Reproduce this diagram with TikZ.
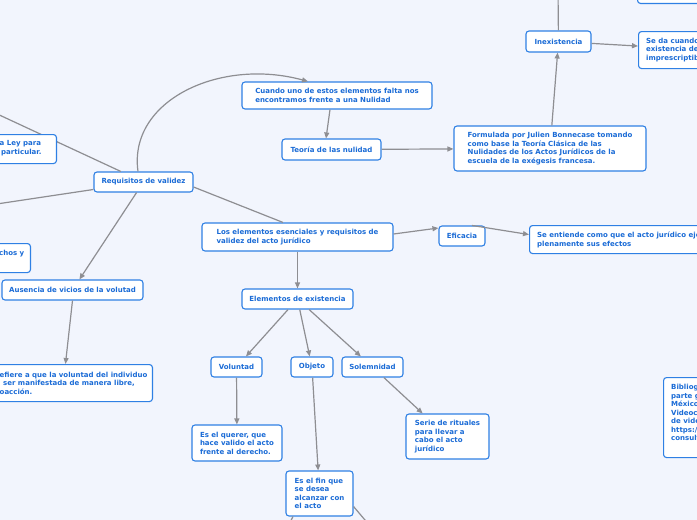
\documentclass[tikz,border=0pt]{standalone}
\usepackage{fontspec}
\usetikzlibrary{arrows.meta}
\newfontfamily\dvsfam{DejaVu Sans}
\newcommand\mfont{\dvsfam\bfseries\fontsize{7}{8.5}\selectfont}
\definecolor{bgc}{HTML}{F2F5FD}
\definecolor{bordc}{HTML}{2F80E4}
\definecolor{txtc}{HTML}{1A6BD6}
\definecolor{linec}{HTML}{8E8E92}
\tikzset{
  mbox/.style={draw=bordc, fill=white, rounded corners=3pt, line width=1.1pt, text=txtc, font=\mfont, inner sep=0pt, align=left},
  tbox/.style={text=txtc, font=\mfont, inner sep=0pt, align=left},
  conn/.style={draw=linec, line width=1.2pt},
  arr/.style={conn, -{Triangle[length=6pt,width=5pt]}}
}
\begin{document}
\begin{tikzpicture}[x=1pt,y=-1pt]
\useasboundingbox (0,0) rectangle (697,520);
\fill[bgc] (0,0) rectangle (697,520);

% main nodes
\node[mbox, minimum width=99pt, minimum height=20pt] (req) at (143.5,182) {Requisitos de validez};
\node[mbox, minimum width=190pt, minimum height=27pt] (cuando) at (337,95.5) {Cuando uno de estos elementos falta nos\\encontramos frente a una Nulidad};
\node[mbox, minimum width=99pt, minimum height=21pt] (teoria) at (331.5,149.5) {Teoría de las nulidad};
\node[mbox, minimum width=192pt, minimum height=45pt] (formulada) at (550,148.5) {Formulada por Julien Bonnecase tomando\\como base la Teoría Clásica de las\\Nulidades de los Actos Jurídicos de la\\escuela de la exégesis francesa.};
\node[mbox, minimum width=65pt, minimum height=21pt] (inex) at (558.5,41.5) {Inexistencia};
\node[mbox, minimum width=122pt, minimum height=37pt, anchor=north west] (seda) at (638,31) {};
\node[tbox, anchor=north west] (sedatxt) at (646,37.5) {Se da cuando\\existencia de\\imprescriptib};
\node[mbox, minimum width=123pt, minimum height=30pt, anchor=south west] (topbox) at (637,4) {};
\node[mbox, minimum width=191pt, minimum height=28pt] (los) at (297.5,237) {Los elementos esenciales y requisitos de\\validez del acto jurídico};
\node[mbox, minimum width=46pt, minimum height=20pt] (efi) at (462,236) {Eficacia};
\node[mbox, minimum width=231pt, minimum height=28pt, anchor=north west] (sent) at (529,225) {};
\node[tbox, anchor=north west] (senttxt) at (537,232) {Se entiende como que el acto jurídico eje\\plenamente sus efectos};
\node[mbox, minimum width=111pt, minimum height=20pt] (elex) at (297.5,299) {Elementos de existencia};
\node[mbox, minimum width=51pt, minimum height=20pt] (vol) at (236.5,367) {Voluntad};
\node[mbox, minimum width=42pt, minimum height=20pt] (obj) at (312,367) {Objeto};
\node[mbox, minimum width=61pt, minimum height=20pt] (sol) at (372.5,367) {Solemnidad};
\node[mbox, minimum width=90pt, minimum height=36pt] (querer) at (237,443) {Es el querer, que\\hace valido el acto\\frente al derecho.};
\node[mbox, minimum width=83pt, minimum height=45pt] (serie) at (447.5,436.5) {Serie de rituales\\para llevar a\\cabo el acto\\jurídico};
\node[mbox, minimum width=67pt, minimum height=45pt] (fin) at (319.5,493.5) {Es el fin que\\se desea\\alcanzar con\\el acto};
\node[mbox, minimum width=141pt, minimum height=20pt] (aus) at (72.5,290) {Ausencia de vicios de la volutad};
\node[mbox, minimum width=193pt, minimum height=37pt, anchor=north east] (fiere) at (153,364) {};
\node[tbox, anchor=west] (fieretxt) at (-0.5,383) {efiere a que la voluntad del individuo\\\hspace{3.5pt}ser manifestada de manera libre,\\oacción.};
\node[mbox, minimum width=71pt, minimum height=29pt, anchor=north east] (chos) at (31,243) {};
\node[tbox, anchor=west] (chostxt) at (-1,254) {chos y};
\node[mbox, minimum width=97pt, minimum height=80pt, anchor=north west] (biblio) at (663,377) {};
\node[tbox, anchor=north west] (bibliotxt) at (671,384) {Bibliog\\parte g\\México\\Videoc\\de vide\\https:/\\consult};

% off-page ends
\coordinate (offley) at (-20,106);
\coordinate (offleft) at (-20,206.5);
\coordinate (offtop) at (558,-10);
\coordinate (offfinr) at (376,533);
\coordinate (offfinl) at (287,528);

% connectors
\draw[conn] (req) -- (offley);
\draw[conn] (req) -- (offleft);
\draw[conn] ([yshift=-5pt]req.east) -- ([xshift=-14.5pt]los.north);
\draw[arr] ([xshift=-5.5pt]req.north) .. controls +(-10,-71) and +(-88,-24) .. ([xshift=-29pt]cuando.north);
\draw[arr] ([xshift=-7pt]cuando.south) -- ([xshift=-5.5pt]teoria.north);
\draw[arr] (teoria) -- (formulada);
\draw[arr] (formulada) -- (inex);
\draw[arr] (inex) -- ([yshift=4pt]seda.west);
\draw[conn] (inex) -- (offtop);
\draw[arr] ([yshift=3pt]los.east) -- ([yshift=8pt]efi.west);
\draw[arr] ([xshift=10pt]efi.north) -- ([yshift=5pt]sent.west);
\draw[arr] (los) -- (elex);
\draw[arr] (elex) -- (vol);
\draw[arr] (elex) -- (obj);
\draw[arr] (elex) -- (sol);
\draw[arr] (vol) -- (querer);
\draw[arr] (obj) -- (fin);
\draw[arr] (sol) -- (serie);
\draw[conn] ([yshift=-13pt]fin.east) -- (offfinr);
\draw[conn] ([xshift=-26.5pt]fin.south) -- (offfinl);
\draw[arr] (req) -- (aus);
\draw[arr] (aus.south) -- ([xshift=9.5pt]fiere.north);

% box lying over the line to the upper left
\node[mbox, minimum width=97pt, minimum height=29pt, anchor=north east] (ley) at (57,134) {};
\node[tbox, anchor=west] (leytxt) at (-0.5,148) {a Ley para\\\hspace{1.5pt}particular.};
\end{tikzpicture}
\end{document}
